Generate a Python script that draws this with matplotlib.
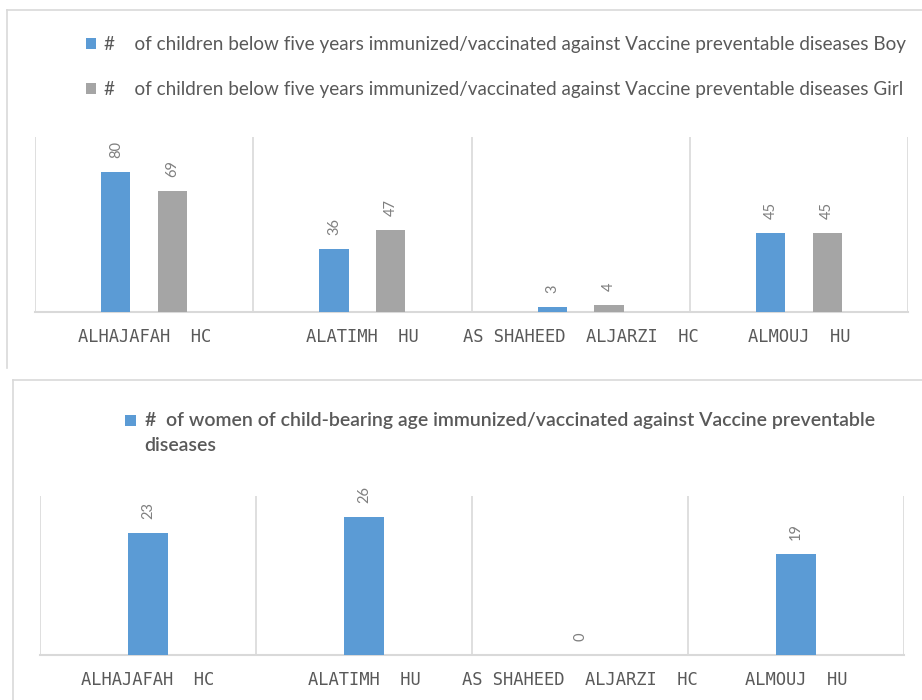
import matplotlib
matplotlib.use("Agg")
import matplotlib.pyplot as plt
from matplotlib.patches import Rectangle
from matplotlib.lines import Line2D
from matplotlib.legend_handler import HandlerPatch
import numpy as np

# ---- data ----
categories = ["ALHAJAFAH  HC", "ALATIMH  HU", "AS SHAHEED  ALJARZI  HC", "ALMOUJ  HU"]
boys = [80, 36, 3, 45]
girls = [69, 47, 4, 45]
women = [23, 26, 0, 19]
label_boy = "#    of children below five years immunized/vaccinated against Vaccine preventable diseases Boy"
label_girl = "#    of children below five years immunized/vaccinated against Vaccine preventable diseases Girl"
label_women = "#  of women of child-bearing age immunized/vaccinated against Vaccine preventable\ndiseases"

BLUE = "#5b9bd5"
GRAY = "#a5a5a5"
GRID = "#d9d9d9"
TXT = "#595959"
LBL = "#7f7f7f"

W, H = 922, 700
fig = plt.figure(figsize=(W / 100, H / 100), dpi=100)
fig.patch.set_facecolor("white")


def fx(px):
    return px / W


def fy(py):
    return 1 - py / H


# panel borders
for (x0, y0, x1, y1) in [(7, 10, 7, 368), (7, 10, 922, 10), (13, 380, 13, 700), (13, 380, 922, 380)]:
    fig.add_artist(Line2D([fx(x0), fx(x1)], [fy(y0), fy(y1)], color=GRID, lw=1.2,
                          transform=fig.transFigure))


def style_axes(ax, ymax):
    x = np.arange(len(categories))
    ax.set_xlim(-0.5, len(categories) - 0.5)
    ax.set_ylim(0, ymax)
    ax.set_yticks([])
    ax.set_xticks(x)
    ax.set_xticklabels(categories, fontsize=12.3, color=TXT, family="DejaVu Sans Mono")
    ax.tick_params(axis="x", length=0, pad=11.5)
    ax.set_xticks(np.arange(len(categories) + 1) - 0.5, minor=True)
    ax.tick_params(axis="x", which="minor", length=0)
    ax.grid(True, which="minor", axis="x", color=GRID, lw=1.2)
    ax.set_axisbelow(True)
    for s in ["top", "right", "left"]:
        ax.spines[s].set_visible(False)
    ax.spines["bottom"].set_color(GRID)
    ax.spines["bottom"].set_linewidth(1.5)


def add_labels(ax, bars, vals):
    for b, v in zip(bars, vals):
        ax.annotate(str(v), (b.get_x() + b.get_width() / 2, b.get_height()),
                    xytext=(0, 10), textcoords="offset points", rotation=90,
                    ha="center", va="bottom", fontsize=10.5, color=LBL, family="Lato")


# ---- top chart ----
ax1 = fig.add_axes([fx(35), fy(312), fx(908) - fx(35), fy(137) - fy(312)])
x = np.arange(len(categories))
bw = 0.133
off = 0.13
b1 = ax1.bar(x - off, boys, bw, color=BLUE, label=label_boy, zorder=3)
b2 = ax1.bar(x + off, girls, bw, color=GRAY, label=label_girl, zorder=3)
style_axes(ax1, 100)
add_labels(ax1, b1, boys)
add_labels(ax1, b2, girls)

fig.legend(handles=[b1[0], b2[0]], labels=[label_boy, label_girl],
           loc="upper left", bbox_to_anchor=(fx(86), fy(36)),
           frameon=False, labelcolor=TXT,
           prop={"family": "Lato", "size": 13.6},
           handlelength=0.55, handleheight=0.55, handletextpad=0.4,
           labelspacing=1.5, borderpad=0, borderaxespad=0)

# ---- bottom chart ----
ax2 = fig.add_axes([fx(40), fy(655), fx(904) - fx(40), fy(496) - fy(655)])
bw2 = 0.185
b3 = ax2.bar(x, women, bw2, color=BLUE, label=label_women, zorder=3)
style_axes(ax2, 30)
add_labels(ax2, b3, women)


def top_square(legend, orig_handle, xdescent, ydescent, width, height, fontsize):
    s = 0.55 * fontsize
    return Rectangle((-xdescent, 1.0 * fontsize - s / 2), s, s)


leg2 = fig.legend(handles=[b3[0]], labels=[label_women], loc="upper left",
                  bbox_to_anchor=(fx(125), fy(412)), frameon=False,
                  prop={"family": "Lato", "size": 14.05, "weight": "semibold"},
                  labelcolor=TXT, handlelength=0.55, handleheight=0.55,
                  handletextpad=0.45, borderpad=0, borderaxespad=0,
                  handler_map={b3[0]: HandlerPatch(patch_func=top_square)})
for t in leg2.get_texts():
    t.set_linespacing(1.55)

fig.savefig("out.png", dpi=100, facecolor="white")
